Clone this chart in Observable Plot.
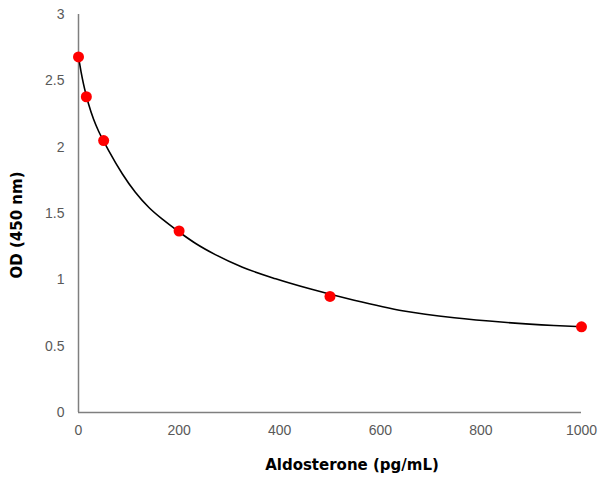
<!DOCTYPE html>
<html>
<head>
<meta charset="utf-8">
<script src="https://cdn.jsdelivr.net/npm/d3@7"></script>
<script src="https://cdn.jsdelivr.net/npm/@observablehq/plot@0.6"></script>
<style>
  html, body { margin: 0; padding: 0; background: #fff; }
  #chart { width: 599px; height: 479px; }
</style>
</head>
<body>
<div id="chart"></div>
<script>
// Standards (measured points)
const concentrations = [0, 15.6, 50, 200, 500, 1000];
const odValues = [2.68, 2.38, 2.05, 1.368, 0.875, 0.646];

// Fitted curve
const curveX = [0, 5, 10, 15, 20, 30, 40, 50, 60, 87, 113, 140, 168, 196, 233, 272, 326, 392, 458, 548, 647, 747, 846, 945, 1000];
const curveY = [2.68, 2.57, 2.475, 2.395, 2.325, 2.21, 2.12, 2.045, 1.974, 1.80, 1.66, 1.545, 1.453, 1.372, 1.274, 1.19, 1.095, 1.008, 0.934, 0.846, 0.765, 0.714, 0.680, 0.656, 0.646];

const xTicks = [0, 200, 400, 600, 800, 1000];
const yTicks = [0, 0.5, 1, 1.5, 2, 2.5, 3];

const xTitle = "Aldosterone (pg/mL)";
const yTitle = "OD (450 nm)";

const points = concentrations.map((c, i) => ({x: c, y: odValues[i]}));
const curve = curveX.map((c, i) => ({x: c, y: curveY[i]}));

const W = 599, H = 479;
const mLeft = 78, mRight = 18, mTop = 14, mBottom = 67;
const tickFont = "'Liberation Sans', Arial, sans-serif";
const titleFont = "'DejaVu Sans', Verdana, sans-serif";

const plot = Plot.plot({
  width: W,
  height: H,
  marginLeft: mLeft,
  marginRight: mRight,
  marginTop: mTop,
  marginBottom: mBottom,
  style: {fontFamily: tickFont, fontSize: "14px", background: "#fff", overflow: "visible"},
  x: {domain: [0, 1000], ticks: xTicks, tickFormat: d => String(d), label: null},
  y: {domain: [0, 3], ticks: yTicks, tickFormat: d => String(d), label: null},
  marks: [
    Plot.axisX({ticks: xTicks, tickSize: 0, tickPadding: 13, tickFormat: d => String(d), label: null, fill: "#595959", fontSize: 14}),
    Plot.axisY({ticks: yTicks, tickSize: 0, tickPadding: 14, tickFormat: d => String(d), label: null, fill: "#595959", fontSize: 14}),
    Plot.ruleY([0], {stroke: "#7f7f7f", strokeWidth: 1.5}),
    Plot.ruleX([0], {stroke: "#7f7f7f", strokeWidth: 1.5}),
    Plot.line(curve, {x: "x", y: "y", stroke: "#000", strokeWidth: 1.6, curve: "monotone-x"}),
    Plot.dot(points, {x: "x", y: "y", r: 5.5, fill: "#ff0000", stroke: "none"})
  ]
});

const svg = d3.select(plot);
svg.append("text")
  .attr("x", 352).attr("y", 470)
  .attr("text-anchor", "middle")
  .attr("font-family", titleFont)
  .attr("font-size", 15).attr("font-weight", "bold").attr("fill", "#000")
  .text(xTitle);
svg.append("text")
  .attr("transform", "translate(22,225) rotate(-90)")
  .attr("text-anchor", "middle")
  .attr("font-family", titleFont)
  .attr("font-size", 15).attr("font-weight", "bold").attr("fill", "#000")
  .text(yTitle);

document.getElementById("chart").appendChild(plot);
</script>
</body>
</html>
